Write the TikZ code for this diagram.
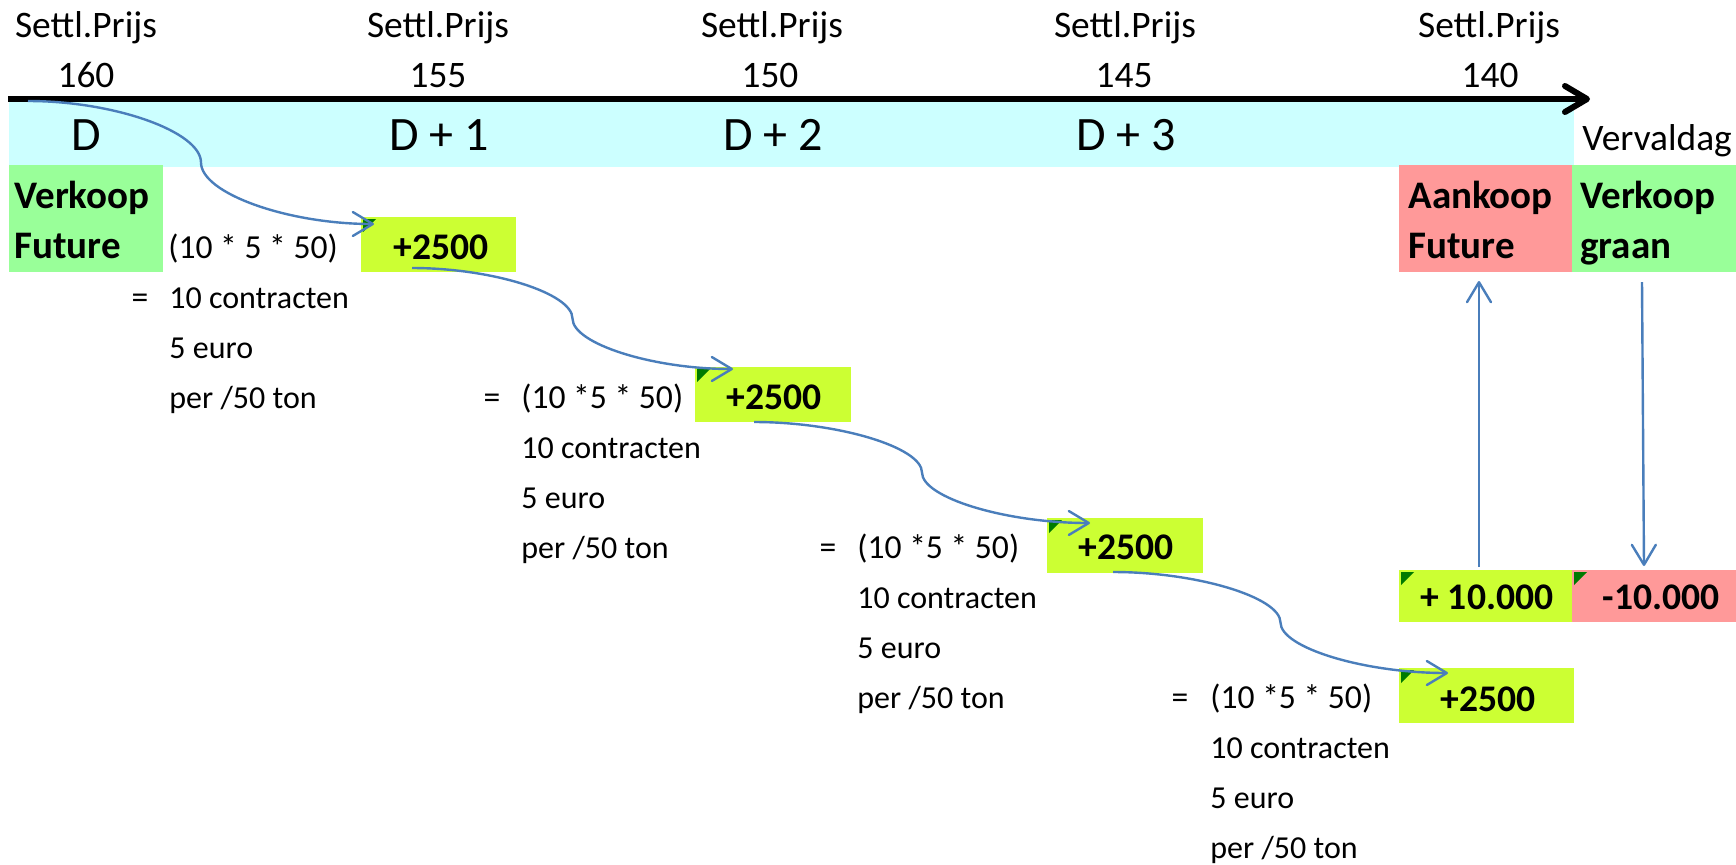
\documentclass[tikz,border=0pt]{standalone}
\usepackage{fontspec}
\setmainfont{Carlito}
\usetikzlibrary{arrows.meta,calc,fit}

\definecolor{bandcyan}{HTML}{CCFFFF}
\definecolor{sellgreen}{HTML}{99FF99}
\definecolor{limecell}{HTML}{CCFF33}
\definecolor{rosecell}{HTML}{FF9999}
\definecolor{linkblue}{HTML}{4A7EBB}
\definecolor{flaggreen}{HTML}{007A00}

\begin{document}
\begin{tikzpicture}[x=0.5pt,y=-0.5pt,
  cell/.style={inner sep=0pt, outer sep=0pt, draw=none},
  toptxt/.style={font=\fontsize{18.7}{22}\selectfont, anchor=base, inner sep=0pt},
  daytxt/.style={font=\fontsize{24}{28}\selectfont, anchor=base, inner sep=0pt},
  headtxt/.style={font=\bfseries\fontsize{19.5}{22}\selectfont, anchor=base west, inner sep=0pt},
  numtxt/.style={font=\bfseries\fontsize{18.8}{22}\selectfont, anchor=base, inner sep=0pt},
  sumtxt/.style={font=\fontsize{16.8}{20}\selectfont, anchor=base west, inner sep=0pt},
  eqtxt/.style={font=\fontsize{16.8}{20}\selectfont, anchor=base, inner sep=0pt},
  notetxt/.style={font=\fontsize{16}{20}\selectfont, anchor=base west, inner sep=0pt},
  axisline/.style={line width=3pt, -{Straight Barb[length=11pt,width=13pt,round]}},
  link/.style={draw=linkblue, line width=1.2pt, -{Straight Barb[length=10pt,width=12pt,round]}},
  flag/.style={fill=flaggreen},
  xlcurve/.style={to path={
    let \p1=(\tikztostart), \p2=(\tikztotarget) in
    .. controls ({\x1+0.25*(\x2-\x1)},\y1) and ({0.5*(\x1+\x2)},{\y1+0.25*(\y2-\y1)})
    .. ({0.5*(\x1+\x2)},{0.5*(\y1+\y2)})
    .. controls ({0.5*(\x1+\x2)},{\y1+0.75*(\y2-\y1)}) and ({\x1+0.75*(\x2-\x1)},\y2)
    .. (\tikztotarget) \tikztonodes}}
]
\useasboundingbox (0,0) rectangle (1736,864);

% time band and axis
\node[cell, fill=bandcyan, fit={(9,99) (1574,167)}] (band) {};
\coordinate (ax0) at (8,99);
\coordinate (ax1) at (1590,99);
\draw[axisline] (ax0) -- (ax1);

% settlement prices per day
\node[toptxt] (set0) at (86,37) {Settl.Prijs};
\node[toptxt] (set1) at (438,37) {Settl.Prijs};
\node[toptxt] (set2) at (772,37) {Settl.Prijs};
\node[toptxt] (set3) at (1125,37) {Settl.Prijs};
\node[toptxt] (set4) at (1489,37) {Settl.Prijs};
\node[toptxt] (pr0) at (86,87) {160};
\node[toptxt] (pr1) at (438,87) {155};
\node[toptxt] (pr2) at (770,87) {150};
\node[toptxt] (pr3) at (1124,87) {145};
\node[toptxt] (pr4) at (1490,87) {140};

\node[daytxt] (d0) at (86,150) {D};
\node[daytxt] (d1) at (439,150) {D + 1};
\node[daytxt] (d2) at (773,150) {D + 2};
\node[daytxt] (d3) at (1126,150) {D + 3};
\node[toptxt, anchor=base west] (verval) at (1582,150) {Vervaldag};

% coloured cells
\node[cell, fill=sellgreen, fit={(9,165) (163,272)}] (sellF) {};
\node[cell, fill=rosecell, fit={(1399,165) (1572,272)}] (aank) {};
\node[cell, fill=sellgreen, fit={(1572,165) (1736,272)}] (graan) {};
\node[cell, fill=limecell, fit={(361,217) (516,272)}] (b1) {};
\node[cell, fill=limecell, fit={(695,367) (851,422)}] (b2) {};
\node[cell, fill=limecell, fit={(1047,518) (1203,573)}] (b3) {};
\node[cell, fill=limecell, fit={(1399,668) (1574,723)}] (b4) {};
\node[cell, fill=limecell, fit={(1399,570) (1572,622)}] (plus10) {};
\node[cell, fill=rosecell, fit={(1572,570) (1736,622)}] (min10) {};

% comment markers in the cell corners
\foreach \c in {b1,b2,b3,b4,plus10,min10}{
  \fill[flag] ($(\c.north west)+(2,2)$) -- ++(13,0) -- ++(-13,13) -- cycle;
}

% cell texts
\node[headtxt] (t_verk) at (14,208) {Verkoop};
\node[headtxt] (t_fut) at (14,258) {Future};
\node[headtxt] (t_aank) at (1408,208) {Aankoop};
\node[headtxt] (t_fut2) at (1408,258) {Future};
\node[headtxt] (t_verk2) at (1580,208) {Verkoop};
\node[headtxt] (t_graan) at (1580,258) {graan};

\node[numtxt] (n1) at (441,259) {+2500};
\node[numtxt] (n2) at (774,409) {+2500};
\node[numtxt] (n3) at (1126,559) {+2500};
\node[numtxt] (n4) at (1488,711) {+2500};
\node[numtxt] (n5) at (1487,609) {+ 10.000};
\node[numtxt] (n6) at (1661,609) {-10.000};

% margin calculations
\node[sumtxt] (f1) at (168,258) {(10 * 5 * 50)};
\node[eqtxt] (q1) at (140,308) {=};
\node[notetxt] (c1) at (169,308) {10 contracten};
\node[notetxt] (e1t) at (169,358) {5 euro};
\node[notetxt] (p1) at (169,408) {per /50 ton};

\node[eqtxt] (q2) at (492,408) {=};
\node[sumtxt] (f2) at (521,408) {(10 *5 * 50)};
\node[notetxt] (c2) at (521,458) {10 contracten};
\node[notetxt] (e2t) at (521,508) {5 euro};
\node[notetxt] (p2) at (521,558) {per /50 ton};

\node[eqtxt] (q3) at (828,558) {=};
\node[sumtxt] (f3) at (857,558) {(10 *5 * 50)};
\node[notetxt] (c3) at (857,608) {10 contracten};
\node[notetxt] (e3t) at (857,658) {5 euro};
\node[notetxt] (p3) at (857,708) {per /50 ton};

\node[eqtxt] (q4) at (1180,708) {=};
\node[sumtxt] (f4) at (1210,708) {(10 *5 * 50)};
\node[notetxt] (c4) at (1210,758) {10 contracten};
\node[notetxt] (e4t) at (1210,808) {5 euro};
\node[notetxt] (p4) at (1210,858) {per /50 ton};

% daily settlement connectors
\coordinate (s1) at (28,101);
\coordinate (e1) at ($(b1.north west)+(13,7)$);
\coordinate (s2) at ($(b1.south west)+(51,-4)$);
\coordinate (e2) at ($(b2.north west)+(38,2)$);
\coordinate (s3) at ($(b2.south west)+(59,0)$);
\coordinate (e3) at ($(b3.north west)+(43,5)$);
\coordinate (s4) at ($(b3.south west)+(66,-1)$);
\coordinate (e4) at ($(b4.north west)+(49,5)$);
\draw[link] (s1) to[xlcurve] (e1);
\draw[link] (s2) to[xlcurve] (e2);
\draw[link] (s3) to[xlcurve] (e3);
\draw[link] (s4) to[xlcurve] (e4);

% expiry day connectors
\draw[link] ($(plus10.north)+(-6.5,-3)$) -- ($(aank.south)+(-6.5,9)$);
\draw[link] ($(graan.south)+(-12,10)$) -- ($(min10.north)+(-10,-4)$);
\end{tikzpicture}
\end{document}
